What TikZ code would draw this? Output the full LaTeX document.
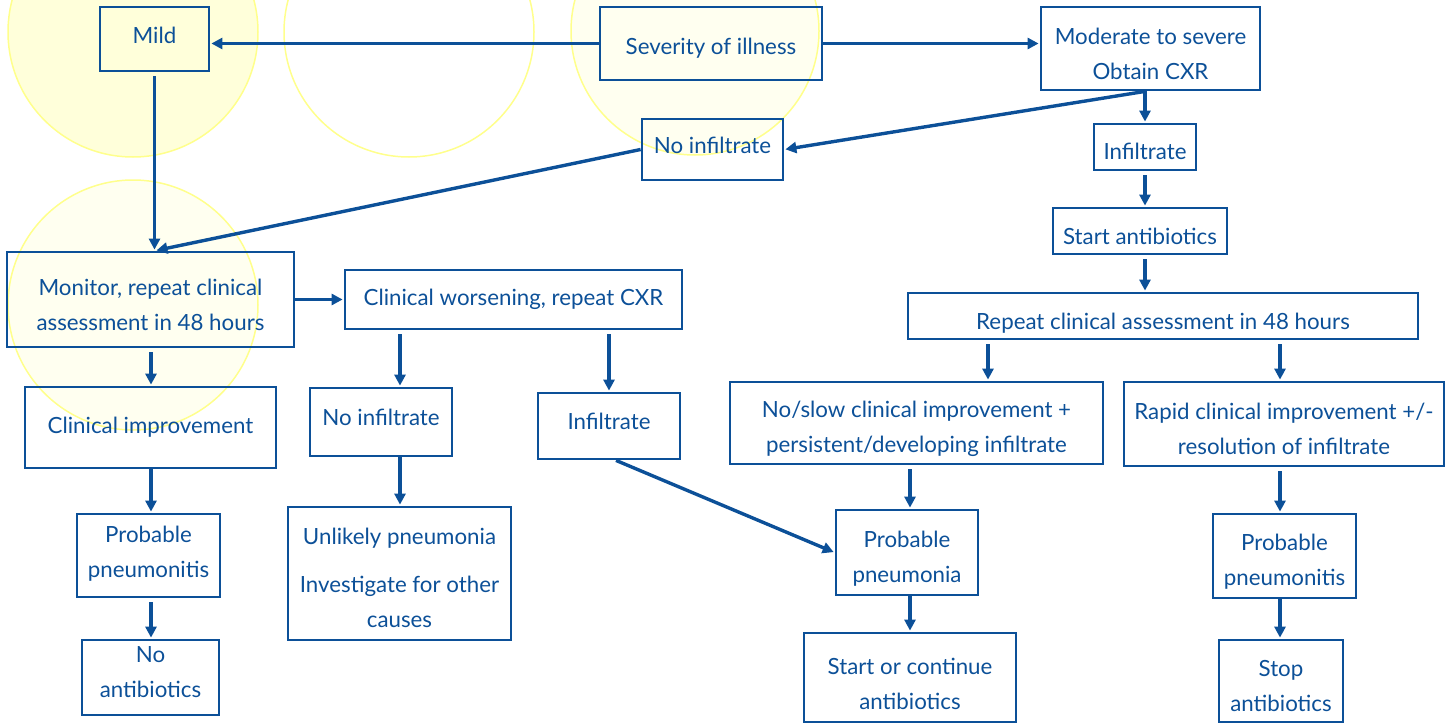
\documentclass[tikz,border=0pt]{standalone}
\usepackage{fontspec}
\setmainfont{Lato}
\usetikzlibrary{arrows.meta}
\definecolor{navy}{RGB}{12,80,152}
\definecolor{haloA}{RGB}{255,255,218}
\definecolor{haloB}{RGB}{255,255,240}
\definecolor{haloline}{RGB}{255,255,140}
% #1 name, #2 centre, #3 width, #4 height, #5 text shift down, #6 text
\newcommand\flowbox[6]{%
  \node[box, minimum width=#3pt, minimum height=#4pt] (#1) at #2 {};
  \node[txt, yshift=-#5pt] (#1-t) at (#1) {#6};}
\begin{document}
\begin{tikzpicture}[x=1pt,y=-1pt,
  box/.style={draw=navy, line width=2.8pt, inner sep=0pt},
  txt/.style={text=navy, align=center, inner sep=0pt,
              font=\fontsize{22.3}{35}\selectfont},
  arr/.style={draw=navy, line width=3.4pt, -{Triangle[length=11pt,width=11pt]},
              shorten <=4pt, shorten >=1pt},
  halo/.style={draw=haloline, line width=1.5pt}]
\useasboundingbox (0,0) rectangle (1449,725);
% background circles
\draw[halo, fill=haloA] (133,32) circle[radius=125];
\draw[halo] (409,32) circle[radius=125];
\draw[halo, fill=haloB] (695,31) circle[radius=124];
\draw[halo, fill=haloB] (133,305) circle[radius=125];

% boxes
\flowbox{mild}{(154.5,39)}{109}{64}{-4}{Mild}
\flowbox{sev}{(711,43.5)}{222}{73}{5}{Severity of illness}
\flowbox{mod}{(1150.5,48.5)}{219}{83}{5}{Moderate to severe\\Obtain CXR}
\flowbox{nit}{(712.5,149.5)}{141}{61}{-4}{No infiltrate}
\flowbox{infr}{(1145,147)}{102}{46}{4}{Infiltrate}
\flowbox{sab}{(1140,231)}{174}{46}{5}{Start antibiotics}
\flowbox{rep}{(1163,316)}{510}{46}{7}{Repeat clinical assessment in 48 hours}
\flowbox{mon}{(150.5,299.5)}{287}{95}{5}{Monitor, repeat clinical\\assessment in 48 hours}
\flowbox{cw}{(513.5,299.5)}{337}{59}{0}{Clinical worsening, repeat CXR}
\flowbox{ci}{(150.5,427.5)}{251}{81}{0}{Clinical improvement}
\flowbox{nim}{(381,422)}{142}{68}{-5}{No infiltrate}
\flowbox{infm}{(609,426)}{142}{66}{-5}{Infiltrate}
\flowbox{slow}{(916.5,423)}{373}{82}{6}{No/slow clinical improvement +\\persistent/developing infiltrate}
\flowbox{rapid}{(1284,424)}{320}{84}{5}{Rapid clinical improvement +/-\\resolution of infiltrate}
\flowbox{ppl}{(148.5,555.5)}{143}{83}{-2}{Probable\\pneumonitis}
\flowbox{unl}{(399.5,573.5)}{223}{133}{4}{Unlikely pneumonia\\[13pt]Investigate for other\\causes}
\flowbox{ppn}{(907,552.5)}{142}{85}{6}{Probable\\pneumonia}
\flowbox{ppr}{(1284.5,556)}{143}{84}{6}{Probable\\pneumonitis}
\flowbox{noab}{(150.5,677.5)}{137}{75}{-5}{No\\antibiotics}
\flowbox{sca}{(910,677.5)}{212}{89}{6}{Start or continue\\antibiotics}
\flowbox{stop}{(1281,681)}{124}{82}{5}{Stop\\antibiotics}

% arrow columns
\coordinate (colA) at (988,0);
\coordinate (colB) at (1280,0);
\coordinate (colC) at (910,0);
\coordinate (colE) at (400,0);
\coordinate (colL) at (151,0);

% connectors
\draw[arr, shorten <=0pt] (sev.west) -- (sev.west -| mild.east);
\draw[arr, shorten <=0pt] (sev.east) -- (sev.east -| mod.west);
\draw[arr] (mild.south) -- (mild.south |- mon.north);
\draw[arr, shorten <=0pt] (nit.west) -- ([xshift=5pt]mon.north);
\draw[arr, shorten <=0pt] (mod.south -| infr.north) -- (nit.east);
\draw[arr, shorten <=0pt] (mod.south -| infr.north) -- (infr.north);
\draw[arr] (infr.south) -- (sab.north -| infr.south);
\draw[arr] (sab.south -| infr.south) -- (rep.north -| infr.south);
\draw[arr] (rep.south -| colA) -- (slow.north -| colA);
\draw[arr] (rep.south -| colB) -- (rapid.north -| colB);
\draw[arr, shorten <=0pt] (mon.east) -- (cw.west);
\draw[arr] (mon.south -| colL) -- (ci.north -| colL);
\draw[arr] (cw.south -| colE) -- (nim.north -| colE);
\draw[arr] (cw.south -| infm.north) -- (infm.north);
\draw[arr, shorten <=0pt] ([xshift=7pt]infm.south) -- (ppn.west);
\draw[arr, shorten <=0pt] (nim.south -| colE) -- (unl.north -| colE);
\draw[arr, shorten <=0pt] (ci.south -| colL) -- (ppl.north -| colL);
\draw[arr] (ppl.south -| colL) -- (noab.north -| colL);
\draw[arr] (slow.south -| colC) -- (ppn.north -| colC);
\draw[arr, shorten <=0pt] (ppn.south -| colC) -- (sca.north -| colC);
\draw[arr] (rapid.south -| colB) -- (ppr.north -| colB);
\draw[arr, shorten <=0pt] (ppr.south -| colB) -- (stop.north -| colB);
\end{tikzpicture}
\end{document}
